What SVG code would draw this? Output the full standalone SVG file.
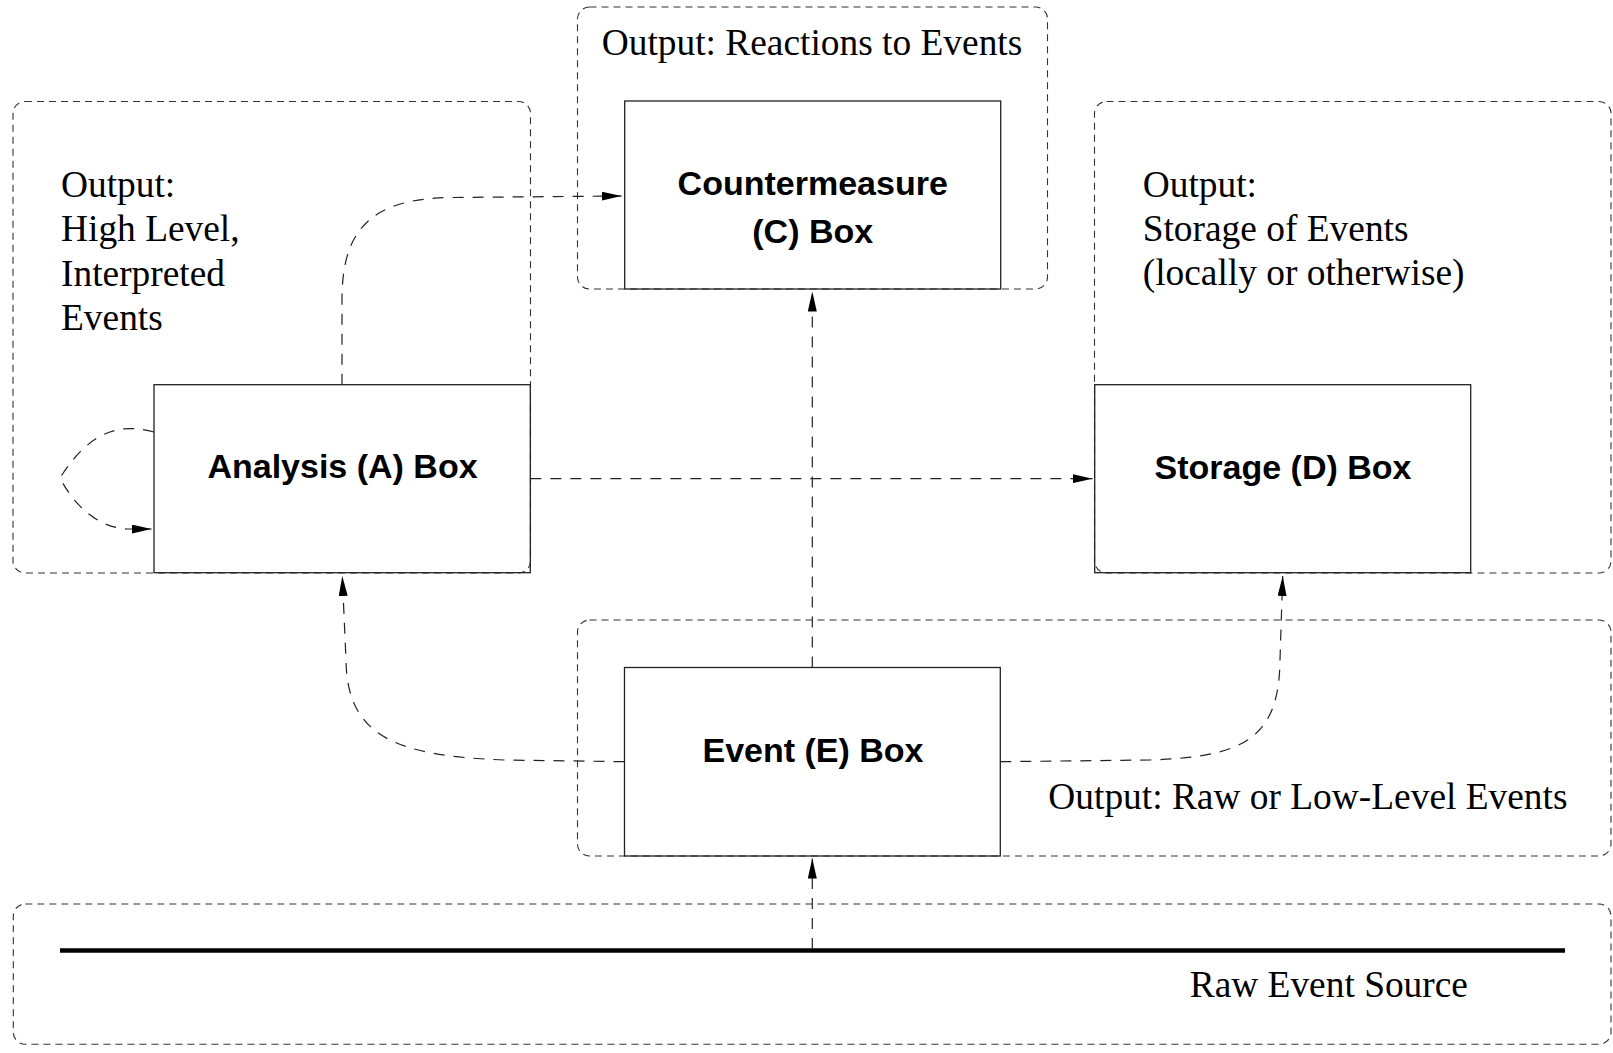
<svg xmlns="http://www.w3.org/2000/svg" width="1613" height="1053" viewBox="0 0 1613 1053">
<defs>
<marker id="ah" markerUnits="userSpaceOnUse" viewBox="0 0 20 9" refX="20" refY="4.5" markerWidth="20" markerHeight="9" orient="auto">
<path d="M0,0 L20,4.5 L0,9 Z" fill="#000"/>
</marker>
<style>
.cont{fill:none;stroke:#333;stroke-width:1.1;stroke-dasharray:7 5}
.box{fill:none;stroke:#222;stroke-width:1.3}
.conn{fill:none;stroke:#222;stroke-width:1.2;stroke-dasharray:11 9;marker-end:url(#ah)}
.lbl{font-family:"Liberation Serif","Times New Roman",serif;font-size:37.4px;fill:#000}
.bold{font-family:"Liberation Sans",Arial,Helvetica,sans-serif;font-size:34px;font-weight:bold;fill:#000;text-anchor:middle}
</style>
</defs>
<rect width="1613" height="1053" fill="#fff"/>

<g id="container-analysis">
<rect class="cont" x="13" y="101.5" width="517.5" height="471.5" rx="12" ry="12"/>
<text class="lbl" x="61" y="197">Output:</text>
<text class="lbl" x="61" y="241.3">High Level,</text>
<text class="lbl" x="61" y="285.6">Interpreted</text>
<text class="lbl" x="61" y="329.9">Events</text>
</g>
<g id="container-countermeasure">
<rect class="cont" x="577.5" y="7" width="470" height="282" rx="12" ry="12"/>
<text class="lbl" x="601.7" y="55">Output: Reactions to Events</text>
</g>
<g id="container-storage">
<rect class="cont" x="1094.5" y="101.5" width="516.5" height="471.5" rx="12" ry="12"/>
<text class="lbl" x="1142.7" y="196.7">Output:</text>
<text class="lbl" x="1142.7" y="241.3">Storage of Events</text>
<text class="lbl" x="1142.7" y="285.3">(locally or otherwise)</text>
</g>
<g id="container-event">
<rect class="cont" x="577.5" y="620" width="1033.5" height="236" rx="12" ry="12"/>
<text class="lbl" x="1048.3" y="809.3">Output: Raw or Low-Level Events</text>
</g>
<g id="container-raw">
<rect class="cont" x="13.3" y="904" width="1597.7" height="140.3" rx="12" ry="12"/>
<line x1="60" y1="950.5" x2="1565" y2="950.5" stroke="#000" stroke-width="4.4"/>
<text class="lbl" x="1189.7" y="996.7">Raw Event Source</text>
</g>

<g id="node-analysis">
<rect class="box" x="154" y="384.7" width="376.3" height="188"/>
<text class="bold" x="342.5" y="478">Analysis (A) Box</text>
</g>
<g id="node-countermeasure">
<rect class="box" x="624.7" y="101" width="376" height="188"/>
<text class="bold" x="812.7" y="195">Countermeasure</text>
<text class="bold" x="812.7" y="242.7">(C) Box</text>
</g>
<g id="node-storage">
<rect class="box" x="1094.7" y="384.7" width="376" height="188"/>
<text class="bold" x="1283" y="479">Storage (D) Box</text>
</g>
<g id="node-event">
<rect class="box" x="624.5" y="667.5" width="375.8" height="188.5"/>
<text class="bold" x="813" y="761.7">Event (E) Box</text>
</g>

<g id="connectors">
<path class="conn" d="M154,432 C112,420 84,440 60,478 C74,505 98,529 130,529 L151.5,529"/>
<path class="conn" d="M342,384.7 L342,300 C342,232 368,199 450,197.5 L621.7,196"/>
<path class="conn" d="M530.3,478.7 L1092.5,478.7"/>
<path class="conn" d="M812.3,667.5 L812.3,291.5"/>
<path class="conn" d="M812.3,949 L812.3,858.5"/>
<path class="conn" d="M624.5,761.7 L505,760 C398,756 347,738 346,660 L342.3,576"/>
<path class="conn" d="M1000.3,761.7 L1150,760 C1245,757 1279,738 1280,660 L1282.7,576"/>
</g>
</svg>
